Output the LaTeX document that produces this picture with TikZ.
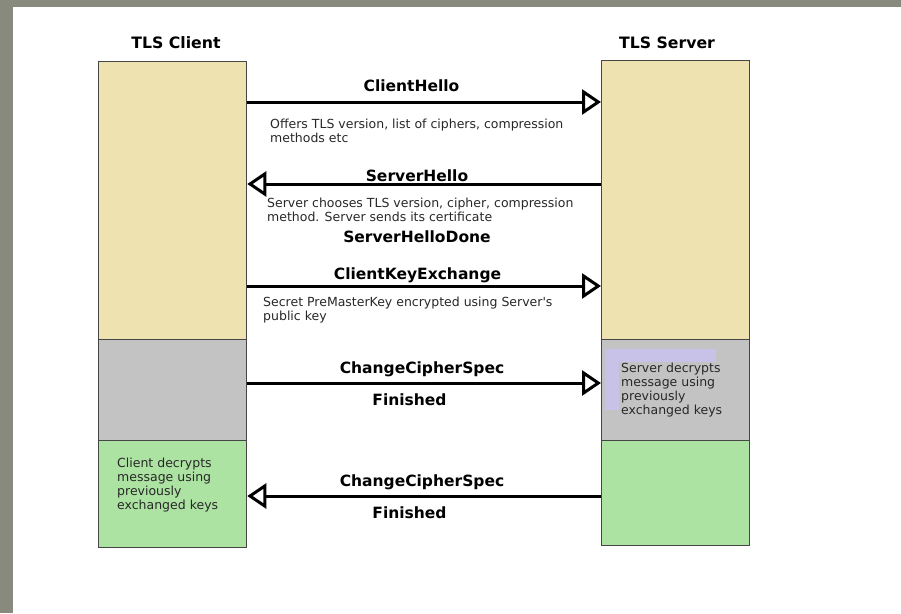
\documentclass[tikz,border=0pt]{standalone}
\usepackage{fontspec}
\setmainfont{DejaVu Sans}[Ligatures=TeXOff]
\usetikzlibrary{arrows.meta}
\definecolor{frame}{RGB}{136,138,126}
\definecolor{tanc}{RGB}{238,226,176}
\definecolor{grayc}{RGB}{195,195,195}
\definecolor{greenc}{RGB}{173,227,162}
\definecolor{lavc}{RGB}{201,194,232}
\definecolor{edgec}{RGB}{70,70,70}
\definecolor{descc}{RGB}{40,40,40}
\tikzset{
  box/.style={draw=edgec, line width=1.3pt, anchor=north west, minimum width=148pt, inner sep=0pt},
  title/.style={font=\fontsize{15.7}{18}\selectfont\bfseries, anchor=base, inner sep=0pt},
  msglabel/.style={font=\fontsize{15.5}{18}\selectfont\bfseries, anchor=base, inner sep=0pt},
  desc/.style={font=\fontsize{12.5}{14}\selectfont, text=descc, align=left, anchor=base west, inner sep=0pt},
  msg/.style={line width=3pt, -{Triangle[open, length=19pt, width=25pt]}}
}
\begin{document}
\begin{tikzpicture}[x=1pt, y=-1pt]
\useasboundingbox (0,0) rectangle (901,613);
\fill[frame] (0,0) rectangle (901,613);
\fill[white] (13,7) rectangle (901,613);

% titles
\node[title] (tc) at (176,48) {TLS Client};
\node[title] (ts) at (667,48) {TLS Server};

% client column
\node[box, fill=tanc, minimum height=278pt] (ctan) at (98,61) {};
\node[box, fill=grayc, minimum height=101pt] (cgray) at (98,339) {};
\node[box, fill=greenc, minimum height=107pt] (cgreen) at (98,440) {};
% server column
\node[box, fill=tanc, minimum height=279pt] (stan) at (601,60) {};
\node[box, fill=grayc, minimum height=101pt] (sgray) at (601,339) {};
\node[box, fill=greenc, minimum height=105pt] (sgreen) at (601,440) {};

% lavender highlight behind server note
\fill[lavc] (605,349) rectangle (716,410);
\fill[grayc] (619,362) rectangle (735,425);

% message rows
\coordinate (r1) at (0,102);
\coordinate (r2) at (0,184);
\coordinate (r3) at (0,286);
\coordinate (r4) at (0,383);
\coordinate (r5) at (0,496);

\draw[msg] (r1 -| ctan.east) -- (r1 -| stan.west);
\draw[msg] (r2 -| stan.west) -- (r2 -| ctan.east);
\draw[msg] (r3 -| ctan.east) -- (r3 -| stan.west);
\draw[msg] (r4 -| cgray.east) -- (r4 -| sgray.west);
\draw[msg] (r5 -| sgreen.west) -- (r5 -| cgreen.east);

% labels
\node[msglabel] (l1) at (411.5,91) {ClientHello};
\node[desc] (d1) at (270,142) {Offers TLS version, list of ciphers, compression\\methods etc};
\node[msglabel] (l2) at (417,181) {ServerHello};
\node[desc] (d2) at (267,221) {Server chooses TLS version, cipher, compression\\method. Server sends its certificate};
\node[msglabel] (l2b) at (417,242) {ServerHelloDone};
\node[msglabel] (l3) at (417.5,279) {ClientKeyExchange};
\node[desc] (d3) at (263,320) {Secret PreMasterKey encrypted using Server's\\public key};
\node[msglabel] (l4) at (422,373) {ChangeCipherSpec};
\node[msglabel] (l4b) at (409.5,405) {Finished};
\node[msglabel] (l5) at (422,486) {ChangeCipherSpec};
\node[msglabel] (l5b) at (409.5,518) {Finished};

% notes
\node[desc] (sn) at (621,414) {Server decrypts\\message using\\previously\\exchanged keys};
\node[desc] (cn) at (117,509) {Client decrypts\\message using\\previously\\exchanged keys};
\end{tikzpicture}
\end{document}
